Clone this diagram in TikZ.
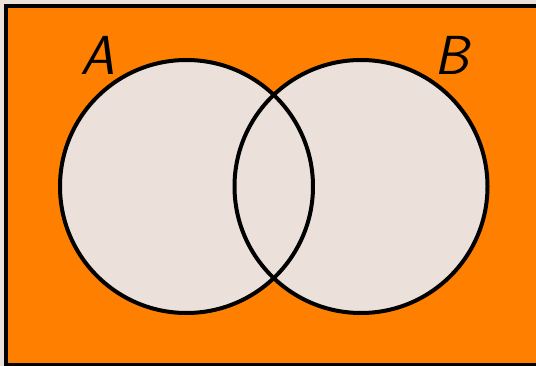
\documentclass[tikz,border=0pt]{standalone}
\definecolor{bgbeige}{RGB}{235,225,218}
\definecolor{vorange}{RGB}{255,128,0}
\begin{document}
\begin{tikzpicture}[x=1pt,y=-1pt,
  setcircle/.style={line width=4pt,draw=black},
  setlabel/.style={inner sep=0pt,font=\fontsize{55}{60}\selectfont\sffamily\itshape}]
\useasboundingbox (0,0) rectangle (536,366);
\fill[bgbeige] (0,0) rectangle (536,366);
\fill[vorange] (6,6) rectangle (536,366);
\draw[line width=4pt,line cap=rect] (536,6) -- (6,6) -- (6,365.5) -- (536,365.5);
\fill[bgbeige] (186.5,186.5) circle[radius=126.5];
\fill[bgbeige] (361,186.5) circle[radius=126.5];
\draw[setcircle] (186.5,186.5) circle[radius=126.5];
\draw[setcircle] (361,186.5) circle[radius=126.5];
\node[setlabel] (la) at (98,55) {A};
\node[setlabel] (lb) at (452,55) {B};
\end{tikzpicture}
\end{document}
